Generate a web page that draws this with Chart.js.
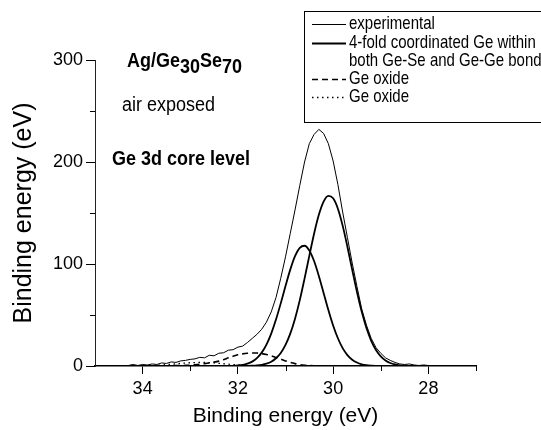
<!DOCTYPE html>
<html><head><meta charset="utf-8">
<script src="https://cdn.jsdelivr.net/npm/chart.js@4/dist/chart.umd.min.js"></script>
<style>html,body{margin:0;padding:0;background:#fff;overflow:hidden}#wrap{width:541px;height:430px;position:relative}</style>
</head><body><div id="wrap"><canvas id="c" width="541" height="430"></canvas></div>
<script>
// Binding energy grid (eV)
const energy = [34.4,34.3,34.2,34.1,34.0,33.9,33.8,33.7,33.6,33.5,33.4,33.3,33.2,33.1,33.0,32.9,32.8,32.7,32.6,32.5,32.4,32.3,32.2,32.1,32.0,31.9,31.8,31.7,31.6,31.5,31.4,31.3,31.2,31.1,31.0,30.9,30.8,30.7,30.6,30.5,30.4,30.3,30.2,30.1,30.0,29.9,29.8,29.7,29.6,29.5,29.4,29.3,29.2,29.1,29.0,28.9,28.8,28.7,28.6,28.5,28.4,28.3,28.2,28.1,28.0,27.9,27.8];
const experimental = [0,0.5,1.5,0.5,1.5,1,2,1.5,3,2.5,4,3.5,5,5.5,6.5,7,8.5,8,10.5,10,12.5,13,15.5,16,18.5,19.5,23,27,31,36,43,53,67,86,107,130,153,177,200,218,227,232,228,218,201,178,151,126,101,78,56,40,27,18,12.5,8,5.5,3.5,2,1.5,2,1,0.5,1,0.5,0.3,0];
const fourFoldHigh = [0,0,0,0,0,0,0,0,0,0,0,0,0,0,0,0,0,0,0,0,0,0,0,0,0,0,0.1,0.3,0.6,1.2,2.3,4.2,7.6,12.8,20.7,31.7,46.4,64.6,85.7,108.0,129.7,148.2,161.2,166.8,164.4,154.2,137.6,116.9,94.5,72.8,53.3,37.2,24.7,15.6,9.4,5.4,2.9,1.5,0.7,0.4,0.2,0.1,0,0,0,0,0];
const fourFoldLow = [0,0,0,0,0,0,0,0,0,0,0,0,0,0,0,0,0,0,0,0,0,0,0.1,0.2,0.5,1.1,2.3,4.3,7.8,13.1,21.0,31.8,45.5,61.4,78.4,94.5,107.7,115.9,117.9,113.3,102.9,88.3,71.6,54.8,39.7,27.2,17.5,10.7,6.2,3.4,1.7,0.8,0.4,0.2,0.1,0,0,0,0,0,0,0,0,0,0,0,0];
const oxideDashed = [0,0,0,0,0,0,0.1,0.1,0.2,0.2,0.3,0.4,0.5,0.6,0.8,1.2,1.7,2.3,3.0,3.8,4.8,6.2,8.0,9.6,11.0,11.9,12.5,12.8,12.7,12.2,11.3,10.0,8.4,6.7,5.0,3.5,2.3,1.4,0.8,0.4,0.2,0.1,0,0,0,0,0,0,0,0,0,0,0,0,0,0,0,0,0,0,0,0,0,0,0,0,0];
const oxideDotted = [0,0,0.1,0.1,0.2,0.3,0.5,0.7,1.0,1.3,1.7,2.1,2.5,2.9,3.2,3.4,3.5,3.5,3.3,3.0,2.6,2.2,1.8,1.4,1.0,0.7,0.5,0.3,0.2,0.1,0.1,0,0,0,0,0,0,0,0,0,0,0,0,0,0,0,0,0,0,0,0,0,0,0,0,0,0,0,0,0,0,0,0,0,0,0,0];
const xTickValues = [34,32,30,28];
const xMinorTicks = [33,31,29,27];
const yTickValues = [0,100,200,300];
const yMinorTicks = [50,150,250];
const legendRows = ['experimental','4-fold coordinated Ge within','both Ge-Se and Ge-Ge bonds','Ge oxide','Ge oxide'];

const FONT = "'Liberation Sans', Arial, Helvetica, sans-serif";
const pts = arr => energy.map((e,i)=>({x:e,y:arr[i]}));

const minorTicks = {
  id:'minorTicks',
  afterDraw(chart){
    const ctx = chart.ctx, a = chart.chartArea, xs = chart.scales.x, ys = chart.scales.y;
    ctx.save(); ctx.strokeStyle='#000'; ctx.lineWidth=1; ctx.beginPath();
    xMinorTicks.forEach(v=>{const p=Math.round(xs.getPixelForValue(v))+0.5; ctx.moveTo(p,a.bottom); ctx.lineTo(p,a.bottom+5);});
    yMinorTicks.forEach(v=>{const p=Math.round(ys.getPixelForValue(v))+0.5; ctx.moveTo(a.left,p); ctx.lineTo(a.left-5,p);});
    ctx.stroke(); ctx.restore();
  }
};

function stretchText(ctx, text, x, y, font){
  ctx.save(); ctx.font = font; ctx.fillStyle='#000'; ctx.textBaseline='alphabetic'; ctx.textAlign='left';
  ctx.translate(x,y); ctx.scale(1,1.17); ctx.fillText(text,0,0);
  const w = ctx.measureText(text).width; ctx.restore(); return w;
}

const annotations = {
  id:'annotations',
  afterDraw(chart){
    const ctx = chart.ctx;
    // legend box
    ctx.save(); ctx.strokeStyle='#000'; ctx.lineWidth=1;
    ctx.strokeRect(304.5,11.5,300,111);
    const rowsY=[24,43,61,79,97];
    const samples=[{w:1,d:[]},{w:2,d:[]},null,{w:1.6,d:[6,4]},{w:1.3,d:[1.5,3.5]}];
    samples.forEach((s,i)=>{ if(!s) return; ctx.beginPath(); ctx.lineWidth=s.w; ctx.setLineDash(s.d);
      ctx.moveTo(312,rowsY[i]+0.5); ctx.lineTo(346,rowsY[i]+0.5); ctx.stroke(); });
    ctx.setLineDash([]); ctx.restore();
    legendRows.forEach((t,i)=>stretchText(ctx,t,349,rowsY[i]+5,"15px "+FONT));
    // sample label with subscripts
    let x=127; const b="bold 18px "+FONT;
    x+=stretchText(ctx,'Ag/Ge',x,66.5,b);
    x+=stretchText(ctx,'30',x,73,b);
    x+=stretchText(ctx,'Se',x,66.5,b);
    stretchText(ctx,'70',x,73,b);
    stretchText(ctx,'air exposed',122,110.5,"18px "+FONT);
    stretchText(ctx,'Ge 3d core level',112,165,"bold 18px "+FONT);
  }
};

new Chart(document.getElementById('c'),{
  type:'line',
  data:{datasets:[
    {label:'experimental',data:pts(experimental),borderColor:'#000',borderWidth:1,pointRadius:0,tension:0},
    {label:'4-fold coordinated Ge within both Ge-Se and Ge-Ge bonds',data:pts(fourFoldHigh),borderColor:'#000',borderWidth:1.8,pointRadius:0,cubicInterpolationMode:'monotone'},
    {label:'4-fold coordinated Ge (2)',data:pts(fourFoldLow),borderColor:'#000',borderWidth:1.8,pointRadius:0,cubicInterpolationMode:'monotone'},
    {label:'Ge oxide',data:pts(oxideDashed),borderColor:'#000',borderWidth:1.6,borderDash:[6,4],pointRadius:0,cubicInterpolationMode:'monotone'},
    {label:'Ge oxide (2)',data:pts(oxideDotted),borderColor:'#000',borderWidth:1.3,borderDash:[1.5,3.5],pointRadius:0,cubicInterpolationMode:'monotone'}
  ]},
  options:{
    responsive:false, animation:false, devicePixelRatio:1,
    layout:{padding:{left:0,top:60,right:65,bottom:0}},
    plugins:{legend:{display:false},tooltip:{enabled:false}},
    scales:{
      x:{type:'linear',min:27,max:35,reverse:true,position:'bottom',
        afterBuildTicks:s=>{s.ticks=xTickValues.map(v=>({value:v}));},
        afterFit:s=>{s.height=64;},
        ticks:{font:{family:FONT,size:18},color:'#000',padding:4,maxRotation:0,autoSkip:false},
        grid:{drawOnChartArea:false,drawTicks:true,tickLength:8,tickColor:'#000',tickWidth:1},
        border:{display:true,color:'#000',width:1.5},
        title:{display:true,text:'Binding energy (eV)',color:'#000',font:{family:FONT,size:21},padding:{top:0,bottom:1}}
      },
      y:{type:'linear',min:0,max:300,position:'left',
        afterBuildTicks:s=>{s.ticks=yTickValues.map(v=>({value:v}));},
        afterFit:s=>{s.width=95;},
        ticks:{font:{family:FONT,size:18},color:'#000',padding:3,autoSkip:false},
        grid:{drawOnChartArea:false,drawTicks:true,tickLength:9,tickColor:'#000',tickWidth:1},
        border:{display:true,color:'#222',width:1},
        title:{display:true,text:'Binding energy (eV)',color:'#000',font:{family:FONT,size:25},padding:{top:9,bottom:0}}
      }
    }
  },
  plugins:[minorTicks,annotations]
});
</script></body></html>
